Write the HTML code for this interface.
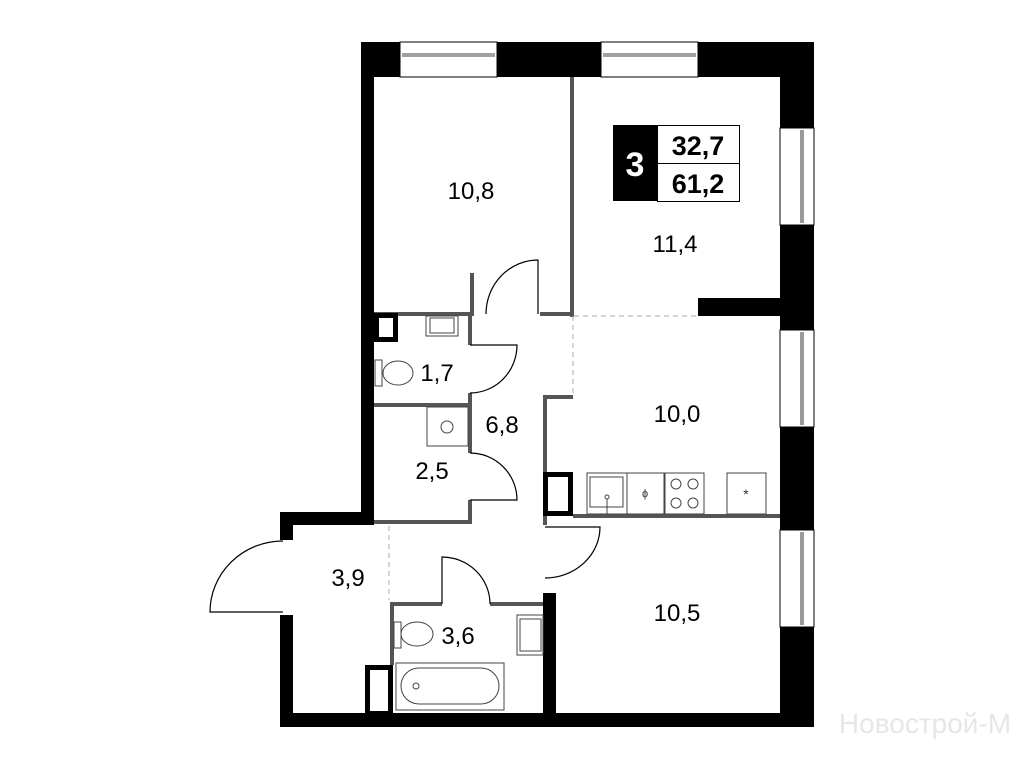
<!DOCTYPE html>
<html><head><meta charset="utf-8"><style>
html,body{margin:0;padding:0;background:#fff;}
svg{display:block}
text{font-family:"Liberation Sans",sans-serif}
</style></head><body>
<svg width="1024" height="768" viewBox="0 0 1024 768" xmlns="http://www.w3.org/2000/svg">
<rect width="1024" height="768" fill="#fff"/>
<g fill="#000">
<rect x="361" y="42" width="453" height="35"/>
<rect x="361" y="42" width="13" height="482"/>
<rect x="780" y="42" width="34" height="685"/>
<rect x="280" y="713" width="534" height="14"/>
<rect x="280" y="512" width="94" height="13"/>
<rect x="280" y="512" width="13" height="28"/>
<rect x="280" y="615" width="13" height="112"/>
<rect x="698" y="298" width="82" height="18"/>
<rect x="543" y="593" width="13" height="134"/>
</g>
<g fill="#fff" stroke="#000" stroke-width="1">
<rect x="400" y="42" width="97" height="35"/>
<rect x="601" y="42" width="97" height="35"/>
<rect x="780" y="128" width="34" height="97"/>
<rect x="780" y="330" width="34" height="97"/>
<rect x="780" y="530" width="34" height="97"/>
</g>
<g stroke="#000" stroke-width="0.8">
<line x1="402" y1="54" x2="495" y2="54"/><line x1="402" y1="56" x2="495" y2="56"/>
<line x1="603" y1="54" x2="696" y2="54"/><line x1="603" y1="56" x2="696" y2="56"/>
<line x1="801" y1="130" x2="801" y2="223"/><line x1="803" y1="130" x2="803" y2="223"/>
<line x1="801" y1="332" x2="801" y2="425"/><line x1="803" y1="332" x2="803" y2="425"/>
<line x1="801" y1="532" x2="801" y2="625"/><line x1="803" y1="532" x2="803" y2="625"/>
</g>
<g fill="#555">
<rect x="570" y="77" width="4" height="240"/>
<rect x="374" y="312" width="98" height="4"/>
<rect x="470" y="273" width="4" height="43"/>
<rect x="540" y="312" width="34" height="4"/>
<rect x="468" y="313" width="4" height="32"/>
<rect x="374" y="403" width="98" height="4"/>
<rect x="468" y="393" width="4" height="60"/>
<rect x="468" y="500" width="4" height="24"/>
<rect x="374" y="520" width="98" height="4"/>
<rect x="543" y="395" width="4" height="130"/>
<rect x="543" y="395" width="30" height="4"/>
<rect x="573" y="514" width="207" height="4"/>
<rect x="390" y="602" width="52" height="4"/>
<rect x="490" y="602" width="53" height="4"/>
<rect x="390" y="602" width="4" height="63"/>
</g>
<g fill="none" stroke="#000" stroke-width="5">
<rect x="376.5" y="315.5" width="19" height="24"/>
<rect x="545.5" y="474.5" width="25" height="39"/>
<rect x="367.5" y="667.5" width="23" height="46"/>
</g>
<g stroke="#aaa" stroke-width="1" stroke-dasharray="5,4" fill="none">
<line x1="574" y1="316" x2="698" y2="316"/>
<line x1="573" y1="316" x2="573" y2="395"/>
<line x1="389" y1="526" x2="389" y2="600"/>
</g>
<g fill="none" stroke="#000" stroke-width="1.2">
<path d="M538 314 L538 260 A52 54 0 0 0 486 314"/>
<path d="M470 345 L517 345 A47 48 0 0 1 470 393"/>
<path d="M470 453 A47 47 0 0 1 517 500 L470 500"/>
<path d="M545 527 L600 527 A55 51 0 0 1 545 578"/>
<path d="M442 604 L442 557 A48 47 0 0 1 490 604"/>
<path d="M283 541 A73 71 0 0 0 210 612 L283 612"/>
</g>
<g fill="none" stroke="#444" stroke-width="1">
<rect x="426" y="316" width="32" height="20"/><rect x="430" y="318" width="24" height="15"/>
<rect x="375" y="360" width="7" height="26"/>
<ellipse cx="398" cy="373" rx="15" ry="12"/>
<rect x="427" y="407" width="41" height="39"/>
<circle cx="447" cy="427" r="6"/>
<rect x="587" y="473" width="40" height="41"/><rect x="590" y="477" width="33" height="30"/>
<circle cx="607" cy="497" r="2"/><line x1="607" y1="499" x2="607" y2="514"/>
<rect x="627" y="473" width="37" height="41"/>
<rect x="665" y="473" width="39" height="41"/>
<circle cx="676" cy="484" r="5"/><circle cx="693" cy="484" r="5"/>
<circle cx="676" cy="503" r="5"/><circle cx="693" cy="503" r="5"/>
<rect x="727" y="473" width="39" height="41"/>
<rect x="394" y="622" width="7" height="26"/>
<ellipse cx="417" cy="634" rx="16" ry="12"/>
<rect x="517" y="615" width="26" height="40"/><rect x="520" y="619" width="21" height="32"/>
<rect x="396" y="663" width="108" height="47"/>
<rect x="401" y="668" width="98" height="36" rx="18"/>
<circle cx="416" cy="686" r="3"/>
</g>
<text x="645" y="497" font-size="11" text-anchor="middle" fill="#333">ɸ</text>
<text x="746" y="499" font-size="14" text-anchor="middle" fill="#333">*</text>
<rect x="613" y="125" width="44" height="76" fill="#000"/>
<rect x="657.5" y="125.5" width="82" height="38" fill="#fff" stroke="#000"/>
<rect x="657.5" y="163.5" width="82" height="38" fill="#fff" stroke="#000"/>
<text x="635" y="176" font-size="34" font-weight="bold" fill="#fff" text-anchor="middle">3</text>
<text x="698" y="155" font-size="27" font-weight="bold" text-anchor="middle">32,7</text>
<text x="698" y="193" font-size="27" font-weight="bold" text-anchor="middle">61,2</text>
<g font-size="24" text-anchor="middle" fill="#000">
<text x="471" y="199">10,8</text>
<text x="675" y="252">11,4</text>
<text x="437" y="381">1,7</text>
<text x="502" y="433">6,8</text>
<text x="432" y="479">2,5</text>
<text x="677" y="422">10,0</text>
<text x="348" y="586">3,9</text>
<text x="458" y="644">3,6</text>
<text x="677" y="621">10,5</text>
</g>
<text x="925" y="733" font-size="28" text-anchor="middle" fill="#e6e6e6">Новострой-М</text>
</svg>
</body></html>
